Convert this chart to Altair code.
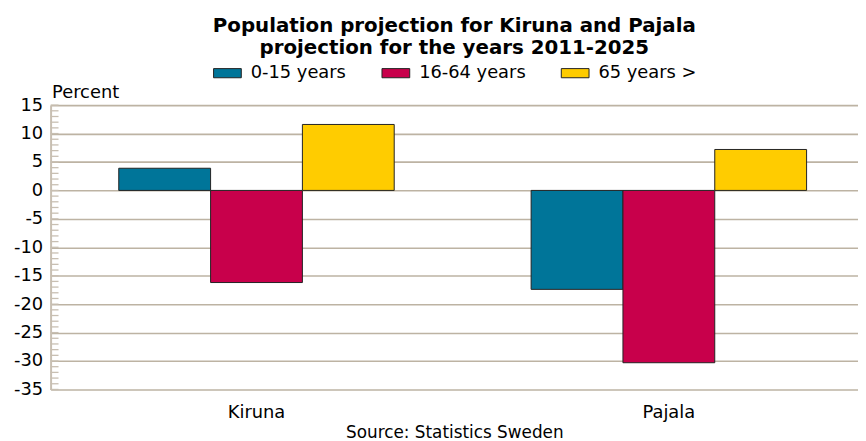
import altair as alt
import pandas as pd

towns = ["Kiruna", "Pajala"]
groups = ["0-15 years", "16-64 years", "65 years >"]
kiruna_values = [3.9, -16.2, 11.6]
pajala_values = [-17.4, -30.3, 7.2]
group_colors = ["#007599", "#C8004B", "#FFCC00"]
y_tick_values = list(range(-35, 20, 5))
minor_tick_values = list(range(-35, 16, 1))
title_lines = ["Population projection for Kiruna and Pajala", "projection for the years 2011-2025"]

rows = []
for town, vals in zip(towns, [kiruna_values, pajala_values]):
    for g, v in zip(groups, vals):
        rows.append({"town": town, "group": g, "value": v})
df = pd.DataFrame(rows)
minor_df = pd.DataFrame({"value": minor_tick_values})

FONT = "DejaVu Sans"
TAN = "#bdb3a3"

y_scale = alt.Scale(domain=[-35, 15], nice=False, zero=False)
y_axis = alt.Axis(
    values=y_tick_values,
    labelExpr="replace(datum.label, '\u2212', '-')",
    title="Percent",
    titleAngle=0,
    titleAlign="left",
    titleBaseline="alphabetic",
    titleX=1,
    titleY=-8,
    titleFontSize=18,
    titleFontWeight="normal",
    labelFontSize=18,
    labelPadding=8,
    ticks=False,
    grid=True,
    gridColor=TAN,
    gridWidth=1.6,
    domain=True,
    domainColor="#c8bfb2",
    domainWidth=2,
)

bars = alt.Chart(df).mark_bar(stroke="#222222", strokeWidth=1).encode(
    x=alt.X(
        "town:N",
        sort=towns,
        scale=alt.Scale(paddingInner=0.332, paddingOuter=0.145, align=0.57),
        axis=alt.Axis(
            title="Source: Statistics Sweden",
            labelAngle=0,
            labelFontSize=18,
            labelPadding=14,
            domain=False,
            ticks=False,
            titleFontSize=17,
            titleFontWeight="normal",
            titlePadding=4,
        ),
    ),
    xOffset=alt.XOffset("group:N", sort=groups),
    y=alt.Y("value:Q", scale=y_scale, axis=y_axis),
    color=alt.Color(
        "group:N",
        sort=groups,
        scale=alt.Scale(domain=groups, range=group_colors),
        legend=alt.Legend(
            title=None,
            orient="none",
            legendX=164,
            legendY=-47,
            direction="horizontal",
            symbolType="M-1,-0.33H1V0.33H-1Z",
            symbolSize=784,
            symbolStrokeColor="#222222",
            symbolStrokeWidth=1,
            labelFontSize=18,
            labelOffset=9,
            columnPadding=33,
            padding=0,
        ),
    ),
)

minor = alt.Chart(minor_df).mark_rule(color="#c8bfb2", strokeWidth=1.3).encode(
    y=alt.Y("value:Q", scale=y_scale, axis=y_axis),
    x=alt.value(0),
    x2=alt.value(8),
)

chart = (
    alt.layer(bars, minor)
    .properties(
        width=815,
        height=287,
        autosize=alt.AutoSizeParams(type="none"),
        padding={"left": 43, "top": 96, "right": 0, "bottom": 50},
        title=alt.TitleParams(
            text=title_lines,
            fontSize=20,
            fontWeight="bold",
            lineHeight=22,
            color="black",
            anchor="middle",
            frame="group",
            offset=1,
        ),
    )
    .configure(font=FONT, background="white")
    .configure_view(stroke=None)
    .configure_axis(labelColor="black", titleColor="black", labelFont=FONT, titleFont=FONT)
    .configure_legend(labelColor="black", labelFont=FONT)
    .configure_title(font=FONT)
)

chart.save("out.html", embed_options={"renderer": "svg", "actions": False})
